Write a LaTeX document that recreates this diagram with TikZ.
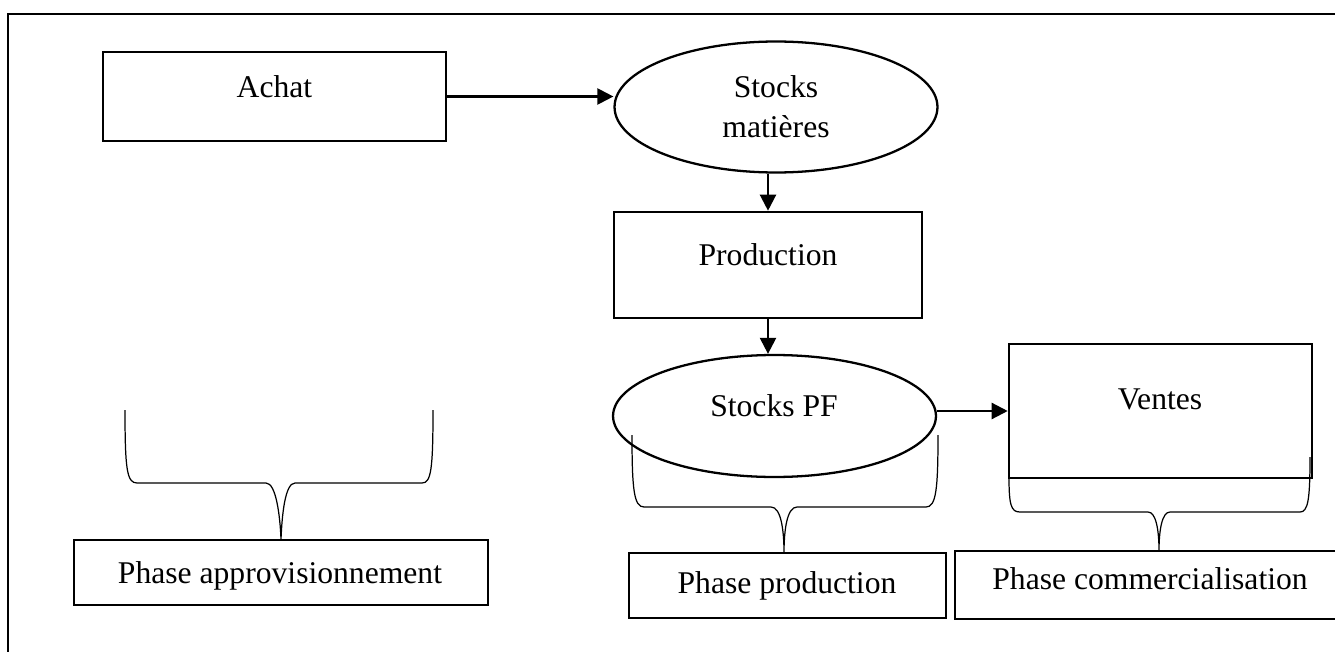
\documentclass[tikz,border=0pt]{standalone}
\usepackage{fontspec}
\setmainfont{Liberation Serif}
\usetikzlibrary{shapes.geometric,arrows.meta}
\tikzset{
 boxthick/.style={draw, line width=1.5pt, rectangle, inner sep=0pt},
 ell/.style={draw, line width=1.3pt, ellipse, inner sep=0pt},
 boxthin/.style={draw, line width=0.9pt, rectangle, inner sep=0pt},
 lbl/.style={font=\fontsize{18}{22}\selectfont, inner sep=0pt, anchor=base},
 arr/.style={line width=1.3pt, -{Triangle[length=0.32cm,width=0.32cm]}},
 bracepath/.style={line width=0.7pt},
 frame/.style={line width=1.4pt},
}
\begin{document}
\begin{tikzpicture}[x=0.02cm,y=-0.02cm]
\clip (0,0) rectangle (1335,652);
\draw[frame] (8,14) rectangle (1360,680);

% main nodes
\node[boxthick, minimum width=6.86cm, minimum height=1.78cm] (achat) at (274.5,96.5) {};
\node[lbl] (achatT) at (274.5,97) {Achat};

\node[ell, minimum width=6.46cm, minimum height=2.62cm] (sm) at (776,107) {};
\node[lbl] (smT1) at (776,98) {Stocks};
\node[lbl] (smT2) at (776,137) {matières};

\node[boxthick, minimum width=6.16cm, minimum height=2.12cm] (prod) at (768,265) {};
\node[lbl] (prodT) at (768,265) {Production};

\node[ell, minimum width=6.46cm, minimum height=2.44cm] (spf) at (774.5,416) {};
\node[lbl] (spfT) at (774,416) {Stocks PF};

\node[boxthick, minimum width=6.06cm, minimum height=2.68cm] (ventes) at (1160.5,411) {};
\node[lbl] (ventesT) at (1160,409) {Ventes};

% phase boxes
\node[boxthin, minimum width=8.28cm, minimum height=1.3cm] (pappro) at (281,572.5) {};
\node[lbl] (papproT) at (280,583) {Phase approvisionnement};

\node[boxthin, minimum width=6.34cm, minimum height=1.3cm] (pprod) at (787.5,585.5) {};
\node[lbl] (pprodT) at (787,593) {Phase production};

\node[boxthin, minimum width=7.78cm, minimum height=1.36cm] (pcomm) at (1149.5,585) {};
\node[lbl] (pcommT) at (1150,589) {Phase commercialisation};

% arrows
\draw[arr] (achat.east) -- (achat.east -| sm.west);
\draw[arr] (sm.south -| prod.north) -- (prod.north);
\draw[arr] (prod.south) -- (prod.south |- spf.north);
\draw[arr] ([yshift=0.1cm]spf.east) -- ([yshift=0.1cm]spf.east -| ventes.west);

% braces
\draw[bracepath] (125,410) .. controls (125,470) and (127,483) .. (137,483) -- (266,483)
  .. controls (276,483) and (280,515) .. (pappro.north)
  .. controls (282,515) and (285,483) .. (295,483) -- (422,483)
  .. controls (431,483) and (433,470) .. (433,410);
\draw[bracepath] (632,435) .. controls (632,490) and (634,507) .. (644,507) -- (771,507)
  .. controls (781,507) and (784,530) .. (784,553)
  .. controls (784,530) and (787,507) .. (797,507) -- (926,507)
  .. controls (936,507) and (938,490) .. (938,435);
\draw[bracepath] (1009,477) .. controls (1009,505) and (1011,512) .. (1020,512) -- (1148,512)
  .. controls (1156,512) and (1159,530) .. (1159,551)
  .. controls (1159,530) and (1162,512) .. (1170,512) -- (1300,512)
  .. controls (1308,512) and (1310,500) .. (1310,457);
\end{tikzpicture}
\end{document}
